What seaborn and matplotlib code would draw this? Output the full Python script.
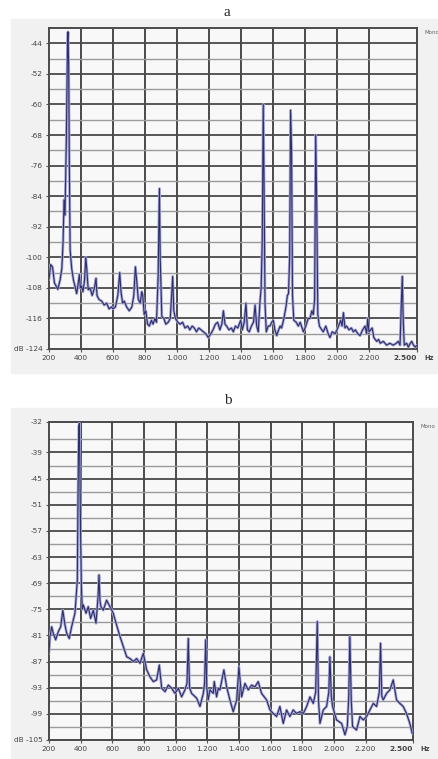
import matplotlib.pyplot as plt
import matplotlib.patches as mpatches
import pandas as pd
import seaborn as sns

# spectrum a (Hz, dB)
freq_a = [200, 210, 222, 234, 255, 270, 280, 288, 294, 300, 308, 316, 319, 323, 327, 332,
          342, 353, 365, 373, 382, 390, 396, 403, 412, 422, 430, 436, 445, 456, 470, 484,
          494, 500, 512, 530, 545, 560, 575, 590, 600, 615, 630, 642, 650, 660, 671, 685,
          702, 718, 730, 740, 748, 758, 770, 780, 786, 795, 805, 816, 827, 840, 850, 862,
          872, 882, 890, 895, 905, 918, 930, 945, 958, 966, 973, 980, 990, 1005, 1020, 1035,
          1050, 1067, 1080, 1095, 1108, 1122, 1136, 1150, 1165, 1180, 1195, 1212, 1225, 1240,
          1254, 1268, 1280, 1290, 1300, 1310, 1325, 1340, 1352, 1365, 1380, 1398, 1408, 1420,
          1431, 1440, 1452, 1465, 1478, 1488, 1498, 1508, 1518, 1526, 1533, 1539, 1544, 1550,
          1558, 1570, 1581, 1592, 1602, 1612, 1623, 1635, 1645, 1654, 1668, 1681, 1690, 1697,
          1704, 1710, 1716, 1722, 1730, 1745, 1758, 1770, 1790, 1805, 1820, 1831, 1843, 1852,
          1860, 1867, 1873, 1880, 1890, 1905, 1914, 1930, 1945, 1956, 1970, 1988, 2005, 2023,
          2032, 2040, 2050, 2060, 2075, 2090, 2102, 2115, 2130, 2144, 2160, 2175, 2185, 2192,
          2200, 2210, 2220, 2230, 2248, 2260, 2270, 2290, 2310, 2330, 2352, 2370, 2383, 2394,
          2402, 2408, 2413, 2420, 2435, 2446, 2458, 2467, 2478, 2488, 2500]
db_a = [-105.8, -101.9, -102.5, -106.7, -108.4, -105.8, -103, -96, -85, -89, -70, -43, -41, -50, -75, -98,
        -103, -106, -108, -109.5, -107, -104.5, -108, -107.5, -109, -106, -100, -103, -108.5, -108, -110, -108,
        -105.5, -110, -111, -111.5, -112.5, -112, -113.5, -113, -113.5, -113, -110, -104, -109, -112, -111.5, -113,
        -114, -113, -110, -102.5, -106, -111, -112, -109, -110, -115, -114, -117.5, -118, -116.5, -117.5, -116,
        -117, -105, -82, -100, -115.5, -116, -117.5, -117, -116, -110, -105, -114, -116, -117, -117.5, -117,
        -118.5, -118, -119, -118, -118.5, -119.5, -118.5, -119, -119.5, -120, -121, -120, -119, -117.5,
        -117, -119, -117.5, -114, -117.5, -118, -119, -118.5, -119.5, -118, -118.5, -116.5, -119, -117,
        -112, -119, -119.5, -118, -117, -112.5, -118, -119.5, -112, -108, -95, -60, -80, -112,
        -119.5, -118, -118, -117, -116.5, -119, -120.5, -119, -118, -118.5, -116, -113, -110, -109.5,
        -100, -61.5, -72, -110, -116.5, -117, -118, -117, -119.5, -118, -116, -116, -114, -115,
        -111, -68, -85, -115, -118, -119, -119.5, -118, -120, -121, -119.5, -120, -118.5, -116.5,
        -118, -114.5, -118.5, -118, -119, -118.5, -119.5, -119, -120, -120.5, -119, -118, -120, -116,
        -119.5, -119, -118.5, -121, -122, -121.5, -122.5, -122, -123, -122.5, -123, -122.5, -122, -123,
        -112, -105, -115, -123, -122.5, -123.5, -122.5, -122, -123, -123.5, -123]

# spectrum b (Hz, dB)
freq_b = [200, 206, 217, 227, 242, 259, 274, 287, 301, 312, 328, 343, 364, 379, 383, 388,
          392, 396, 400, 405, 410, 417, 434, 448, 463, 480, 497, 510, 516, 522, 528, 543,
          564, 585, 606, 627, 649, 670, 691, 712, 733, 754, 775, 796, 817, 838, 859, 880,
          897, 912, 933, 954, 975, 996, 1017, 1038, 1059, 1072, 1080, 1088, 1101, 1133, 1154, 1175,
          1183, 1190, 1197, 1206, 1217, 1238, 1244, 1259, 1270, 1280, 1305, 1322, 1343, 1364, 1386, 1400,
          1417, 1438, 1459, 1480, 1501, 1522, 1543, 1575, 1596, 1617, 1638, 1659, 1680, 1701, 1722, 1743,
          1764, 1786, 1807, 1828, 1849, 1870, 1885, 1895, 1903, 1912, 1933, 1954, 1968, 1975, 1984, 1992,
          2017, 2049, 2070, 2085, 2094, 2101, 2110, 2118, 2143, 2165, 2186, 2207, 2228, 2249, 2270, 2287,
          2295, 2303, 2312, 2333, 2354, 2375, 2396, 2417, 2438, 2459, 2480, 2495]
db_b = [-85.1, -81.3, -79, -80.5, -82, -80.1, -79, -75.2, -78.6, -80.5, -81.7, -79, -75.9, -68.3, -50, -33,
        -32.3, -45, -59, -70, -75, -74, -75.9, -74.4, -77.1, -75.2, -78.2, -72, -67.1, -73, -74.4, -75.2,
        -72.9, -74.4, -75.9, -78.6, -81.3, -83.6, -85.9, -86.3, -87, -86.3, -87.4, -85.1, -88.9, -90.5, -91.6, -91.2,
        -87.8, -93.1, -93.9, -92.4, -93.1, -94.3, -93.1, -95.1, -93.5, -92, -81.7, -93, -94.3, -95.4, -97.3, -94.3,
        -92, -82, -93, -95.8, -93.5, -94.3, -91.6, -95.1, -93.1, -93.5, -88.9, -92.7, -95.8, -98.5, -95.8, -88.2,
        -95.1, -92, -93.5, -92.4, -92.8, -91.6, -94.3, -95.8, -98.1, -98.9, -99.6, -97.3, -101.2, -98.1, -99.6, -98.1,
        -98.9, -98.5, -98.9, -97.3, -95.1, -96.6, -94, -77.8, -96, -101.2, -98.1, -97.3, -94, -85.9, -95, -97.3,
        -100.4, -101.2, -103.8, -101.9, -95, -81.3, -96, -101.9, -102.7, -99.6, -100.4, -99.6, -98.1, -96.6, -97.3, -94,
        -82.8, -95, -95.8, -94.3, -93.5, -91.2, -95.8, -96.6, -97.3, -98.9, -101.2, -103.5]

x_ticks = [200, 400, 600, 800, 1000, 1200, 1400, 1600, 1800, 2000, 2200, 2500]
x_labels = ['200', '400', '600', '800', '1.000', '1.200', '1.400', '1.600', '1.800', '2.000', '2.200', '2.500']
y_ticks_a = [-124, -116, -108, -100, -92, -84, -76, -68, -60, -52, -44]
y_ticks_b = [-105, -99, -93, -87, -81, -75, -69, -63, -57, -51, -45, -39, -32]

sns.set_style('white')

fig = plt.figure(figsize=(4.38, 7.59), dpi=100)
W, H = 438, 759

# light grey panels behind each chart
for top, bot in [(19, 373), (408, 759)]:
    fig.patches.append(mpatches.Rectangle((11 / W, 1 - bot / H), (W - 11) / W, (bot - top) / H,
                                          transform=fig.transFigure, color='#f1f1f1', zorder=-10))

ax_a = fig.add_axes([49 / W, 1 - 349 / H, 368 / W, 321 / H])
ax_b = fig.add_axes([49 / W, 1 - 740 / H, 364 / W, 318 / H])


def draw(ax, freq, db, major, ylim, minor_step):
    df = pd.DataFrame({'Hz': freq, 'dB': db})
    ax.set_facecolor('#f8f8f8')
    sns.lineplot(data=df, x='Hz', y='dB', ax=ax, color='#a8a8d8', linewidth=2.0,
                 estimator=None, sort=False, zorder=3)
    sns.lineplot(data=df, x='Hz', y='dB', ax=ax, color='#2e2e6a', linewidth=0.8,
                 estimator=None, sort=False, zorder=4)
    ax.set_xlim(200, 2500)
    ax.set_ylim(*ylim)
    for x in x_ticks[1:-1]:
        ax.axvline(x, color='#4a4a4a', linewidth=1.4, zorder=1)
    for y in major:
        if ylim[0] < y < ylim[1]:
            ax.axhline(y, color='#4a4a4a', linewidth=1.3, zorder=1)
        m = y + minor_step
        if m < ylim[1]:
            ax.axhline(m, color='#9a9a9a', linewidth=1.0, zorder=1)
    for s in ax.spines.values():
        s.set_color('#4a4a4a')
        s.set_linewidth(1.4)
    ax.set_xticks(x_ticks)
    ax.set_xticklabels(x_labels)
    ax.set_yticks(major)
    ax.set_yticklabels(['dB ' + str(major[0])] + [str(v) for v in major[1:]])
    ax.tick_params(axis='both', labelsize=5.3, colors='#555555', length=2.5, width=0.8, pad=2,
                   left=True, bottom=True)
    for lab in ax.get_yticklabels() + ax.get_xticklabels():
        lab.set_color('#444444')
    ax.get_xticklabels()[-1].set_fontweight('bold')
    ax.get_xticklabels()[-1].set_horizontalalignment('right')
    ax.set_xlabel('')
    ax.set_ylabel('')
    ax.annotate('Hz', xy=(1, 0), xycoords='axes fraction', xytext=(5, -4.5),
                textcoords='offset points', fontsize=4.8, fontweight='bold',
                color='#444444', ha='left', va='top')
    ax.text(1.02, 0.995, 'Mono', transform=ax.transAxes, fontsize=4, color='#666666',
            ha='left', va='top')


draw(ax_a, freq_a, db_a, y_ticks_a, (-124, -40), 4)
draw(ax_b, freq_b, db_b, y_ticks_b, (-105, -32), 3)

fig.text(227 / W, 1 - 12 / H, 'a', fontsize=11, family='Liberation Serif', ha='center', va='center')
fig.text(228 / W, 1 - 400 / H, 'b', fontsize=11, family='Liberation Serif', ha='center', va='center')

fig.savefig('out.png', dpi=100, facecolor='white')
